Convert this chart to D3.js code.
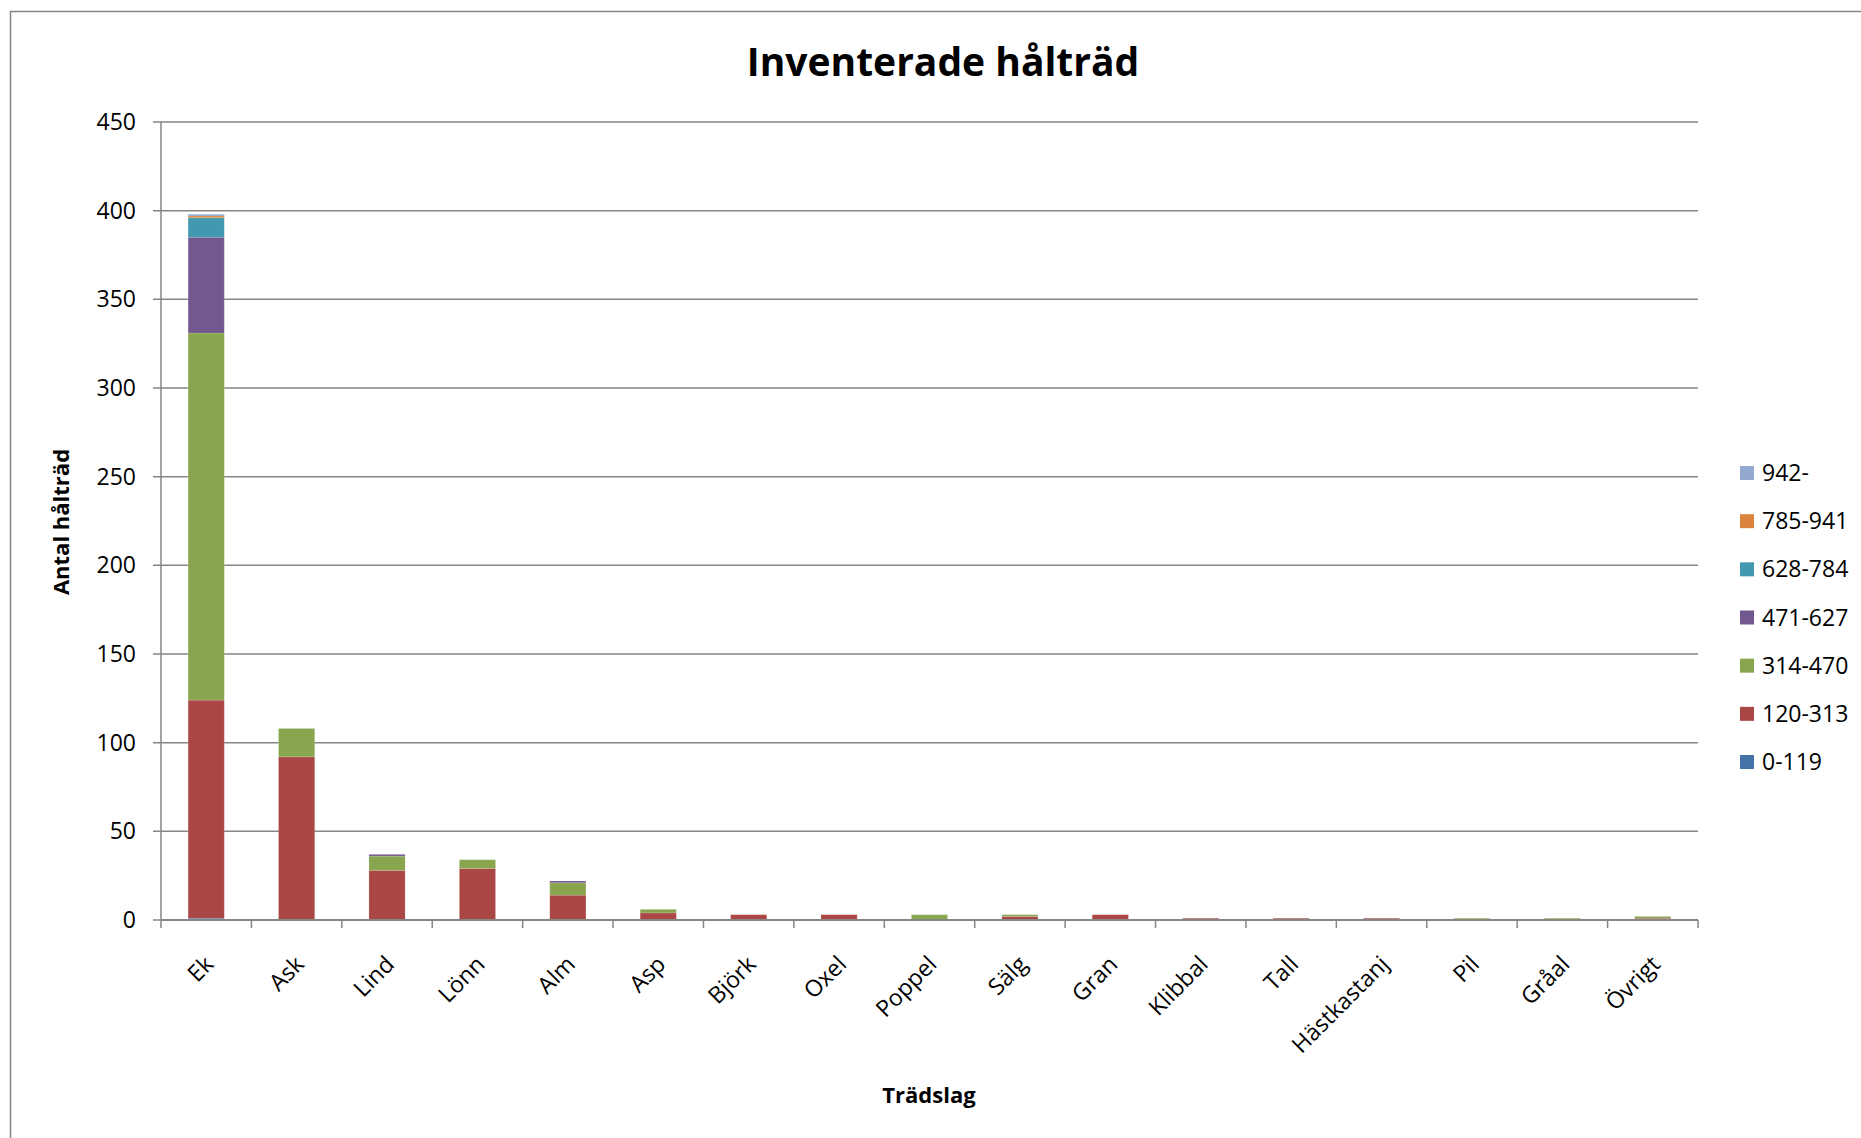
<!DOCTYPE html>
<html>
<head>
<meta charset="utf-8">
<script src="https://cdn.jsdelivr.net/npm/d3@7"></script>
<style>
  html, body { margin: 0; padding: 0; background: #fff; }
  svg { display: block; font-family: "Open Sans", sans-serif; }
</style>
</head>
<body>
<svg id="chart" width="1861" height="1138"></svg>
<script>
// data
var categories = ["Ek","Ask","Lind","Lönn","Alm","Asp","Björk","Oxel","Poppel","Sälg","Gran","Klibbal","Tall","Hästkastanj","Pil","Gråal","Övrigt"];
var bins = ["0-119","120-313","314-470","471-627","628-784","785-941","942-"];
var s0_119    = [1,  0, 0, 0, 0,0,0,0,0,0,0,0,0,0,0,0,0];
var s120_313  = [123,92,28,29,14,4,3,3,0,2,3,1,1,1,0,0,1];
var s314_470  = [207,16,8, 5, 7, 2,0,0,3,1,0,0,0,0,1,1,1];
var s471_627  = [54, 0, 1, 0, 1, 0,0,0,0,0,0,0,0,0,0,0,0];
var s628_784  = [11, 0, 0, 0, 0, 0,0,0,0,0,0,0,0,0,0,0,0];
var s785_941  = [1,  0, 0, 0, 0, 0,0,0,0,0,0,0,0,0,0,0,0];
var s942      = [1,  0, 0, 0, 0, 0,0,0,0,0,0,0,0,0,0,0,0];
var yTicks = [0,50,100,150,200,250,300,350,400,450];

var seriesValues = [s0_119, s120_313, s314_470, s471_627, s628_784, s785_941, s942];
var colors = ["#4572A7","#AA4643","#89A54E","#71588F","#4198AF","#DB843D","#93A9CF"];

var svg = d3.select("#chart");
var gridColor = "#868686";

// outer chart border (right and bottom are cut off in the original)
svg.append("path")
  .attr("d","M10.5 1138 L10.5 11.5 L1861 11.5")
  .attr("fill","none").attr("stroke",gridColor).attr("stroke-width",1.5);

var plotL = 161, plotR = 1698, plotT = 122, plotB = 920;

var x = d3.scaleBand().domain(categories).range([plotL, plotR]).paddingInner(0.6).paddingOuter(0.3);
var y = d3.scaleLinear().domain([0,450]).range([plotB, plotT]);

// table for the stack
var rows = categories.map(function(c,i){
  var r = {cat:c};
  bins.forEach(function(b,j){ r[b] = seriesValues[j][i]; });
  return r;
});
var stacked = d3.stack().keys(bins)(rows);

// gridlines
svg.append("g").selectAll("line").data(yTicks).join("line")
  .attr("x1",plotL-8).attr("x2",plotR)
  .attr("y1",function(d){return y(d);}).attr("y2",function(d){return y(d);})
  .attr("stroke",gridColor).attr("stroke-width",1.5);

// y tick labels
svg.append("g").selectAll("text").data(yTicks).join("text")
  .attr("x",136).attr("y",function(d){return y(d);})
  .attr("dy","0.35em").attr("text-anchor","end")
  .attr("font-size",23).attr("fill","#000")
  .text(function(d){return d;});

// bars
var layer = svg.append("g").selectAll("g").data(stacked).join("g")
  .attr("fill",function(d,i){return colors[i];});
layer.selectAll("rect").data(function(d){return d;}).join("rect")
  .attr("x",function(d){return x(d.data.cat);})
  .attr("width",x.bandwidth())
  .attr("y",function(d){return y(d[1]);})
  .attr("height",function(d){return y(d[0]) - y(d[1]);})
  .attr("stroke","rgba(255,255,255,0.15)").attr("stroke-width",1);

// axes lines
svg.append("line").attr("x1",plotL).attr("x2",plotL).attr("y1",plotT).attr("y2",plotB)
  .attr("stroke",gridColor).attr("stroke-width",1.5);
svg.append("line").attr("x1",plotL).attr("x2",plotR).attr("y1",plotB).attr("y2",plotB)
  .attr("stroke",gridColor).attr("stroke-width",2);

// x ticks at category boundaries
var step = x.step();
var bounds = d3.range(categories.length+1).map(function(i){ return plotL + i*step; });
svg.append("g").selectAll("line").data(bounds).join("line")
  .attr("x1",function(d){return d;}).attr("x2",function(d){return d;})
  .attr("y1",plotB).attr("y2",plotB+8)
  .attr("stroke",gridColor).attr("stroke-width",1.5);

// x tick labels
svg.append("g").selectAll("text").data(categories).join("text")
  .attr("transform",function(d){ return "translate("+(x(d)+x.bandwidth()/2+3)+",960) rotate(-45)"; })
  .attr("dy","0.35em").attr("text-anchor","end")
  .attr("font-size",23).attr("fill","#000")
  .text(function(d){return d;});

// titles
svg.append("text").attr("x",943).attr("y",76).attr("text-anchor","middle")
  .attr("font-size",39).attr("font-weight","bold").text("Inventerade hålträd");
svg.append("text").attr("transform","translate(69,522) rotate(-90)").attr("text-anchor","middle")
  .attr("font-size",22).attr("font-weight","bold").text("Antal hålträd");
svg.append("text").attr("x",929).attr("y",1103).attr("text-anchor","middle")
  .attr("font-size",22).attr("font-weight","bold").text("Trädslag");

// legend (top entry is the last series)
var legendY = d3.scalePoint().domain(bins.slice().reverse()).range([473,762]);
var leg = svg.append("g").selectAll("g").data(bins).join("g")
  .attr("transform",function(d){return "translate(1740,"+legendY(d)+")";});
leg.append("rect").attr("x",0).attr("y",-7).attr("width",14).attr("height",14)
  .attr("fill",function(d,i){return colors[i];});
leg.append("text").attr("x",22).attr("dy","0.35em").attr("font-size",23)
  .text(function(d){return d;});
</script>
</body>
</html>
